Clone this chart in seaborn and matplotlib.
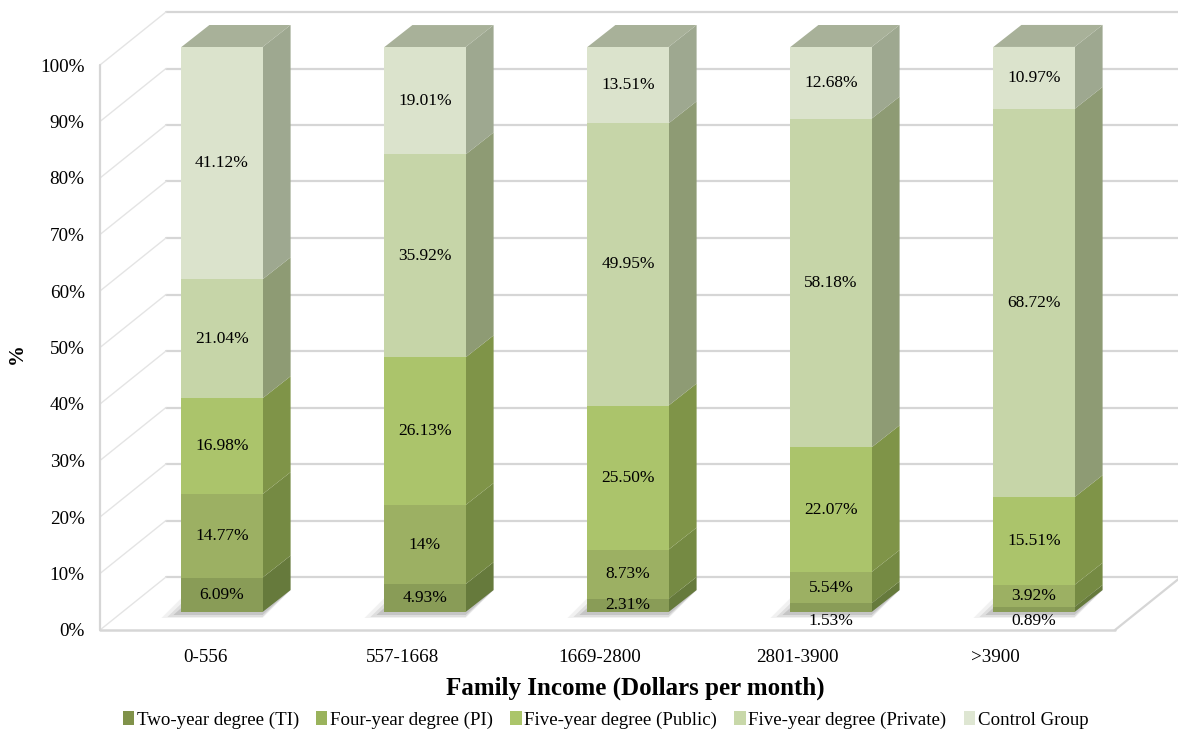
import numpy as np
import pandas as pd
import seaborn as sns
import matplotlib
matplotlib.use("Agg")
import matplotlib.pyplot as plt
from matplotlib.patches import Polygon, Patch

# ---------------- data ----------------
categories = ["0-556", "557-1668", "1669-2800", "2801-3900", ">3900"]
series = ["Two-year degree (TI)", "Four-year degree (PI)", "Five-year degree (Public)",
          "Five-year degree (Private)", "Control Group"]
two_year = [6.09, 4.93, 2.31, 1.53, 0.89]
four_year = [14.77, 14.00, 8.73, 5.54, 3.92]
five_public = [16.98, 26.13, 25.50, 22.07, 15.51]
five_private = [21.04, 35.92, 49.95, 58.18, 68.72]
control = [41.12, 19.01, 13.51, 12.68, 10.97]
y_ticks = [0, 10, 20, 30, 40, 50, 60, 70, 80, 90, 100]

values = [two_year, four_year, five_public, five_private, control]
front_colors = ["#899c57", "#9cb063", "#abc46b", "#c6d5a8", "#dbe3cc"]
side_colors = ["#667a3c", "#758a43", "#7f9448", "#8e9b74", "#9ea890"]
top_color = "#a8b199"
legend_colors = ["#80924a", "#9ab35c", "#abc56a", "#c8d8a9", "#dee6d2"]

sns.set_theme(style="white")
plt.rcParams["font.family"] = ["Liberation Serif", "DejaVu Serif"]
plt.rcParams["text.color"] = "black"

W, H = 1178, 742
fig = plt.figure(figsize=(W / 100, H / 100), dpi=100)
ax = fig.add_axes([100 / W, 112 / H, 1015 / W, 565 / H])

bar_w = 0.40
cum = np.cumsum(np.array(values), axis=0)
df = pd.DataFrame({"category": categories})
for k in range(len(series)):
    df[series[k]] = cum[k]

# draw cumulative bars from the top layer down (seaborn stacked idiom)
for k in reversed(range(len(series))):
    sns.barplot(data=df, x="category", y=series[k], color=front_colors[k],
                saturation=1, width=bar_w, linewidth=0, edgecolor="none",
                ax=ax, zorder=3)

ux = 203.0                      # px per category unit (bar plane)
xl = -122 / ux
xr = xl + 1015 / ux
ax.set_xlim(xl, xr)
ax.set_ylim(0, 100)
uy = 565 / 100.0                # px per y unit

oy = 18 / uy                    # front face raised above the front plane
dx, dy = 28 / ux, 22 / uy       # bar depth
DX, DY = 66 / ux, 53 / uy       # wall depth

for p in ax.patches:
    p.set_y(p.get_y() + oy)
    p.set_clip_on(False)

# walls and floor
wall_c = "#d6d6d6"
for t in y_ticks:
    ax.plot([xl + DX, xr + DX], [t + DY, t + DY], color=wall_c, lw=1.6, zorder=0.5, clip_on=False)
    ax.plot([xl, xl + DX], [t, t + DY], color="#e4e4e4", lw=1.0, zorder=0.5, clip_on=False)
ax.plot([xl, xl], [0, 100], color=wall_c, lw=1.6, zorder=0.6, clip_on=False)
ax.plot([xl, xr], [0, 0], color=wall_c, lw=1.8, zorder=0.6, clip_on=False)
ax.plot([xr, xr + DX], [0, DY], color=wall_c, lw=1.6, zorder=0.6, clip_on=False)

# 3D side and top faces + labels
for i in range(len(categories)):
    xL = i - bar_w / 2
    xR = i + bar_w / 2
    # soft shadow at the foot of the bar
    for s, d, a in [(20, 6, 0.08), (14, 5, 0.12), (8, 3, 0.18)]:
        shadow = Polygon([(xL - s / ux, oy - d / uy), (xR, oy - d / uy),
                          (xR + dx, oy + dy), (xL + dx - s / ux, oy + dy)], closed=True,
                         facecolor="#555555", alpha=a, edgecolor="none", zorder=1, clip_on=False)
        ax.add_patch(shadow)
    bottom = 0.0
    for k in range(len(series)):
        v = values[k][i]
        top = bottom + v
        side = Polygon([(xR, bottom + oy), (xR, top + oy), (xR + dx, top + oy + dy),
                        (xR + dx, bottom + oy + dy)], closed=True,
                       facecolor=side_colors[k], edgecolor="none", zorder=2.5, clip_on=False)
        ax.add_patch(side)
        lab = f"{int(round(v))}%" if abs(v - round(v)) < 1e-9 else f"{v:.2f}%"
        if v < 2:
            ax.text(i, bottom + oy - 1.0 / uy, lab, ha="center", va="top",
                    fontsize=12.5, color="black", zorder=5)
        else:
            ax.text(i, (bottom + top) / 2 + oy, lab, ha="center", va="center",
                    fontsize=12.5, color="black", zorder=5)
        bottom = top
    topf = Polygon([(xL, bottom + oy), (xR, bottom + oy), (xR + dx, bottom + oy + dy),
                    (xL + dx, bottom + oy + dy)], closed=True, facecolor=top_color,
                   edgecolor="none", zorder=2.5, clip_on=False)
    ax.add_patch(topf)

for s in ax.spines.values():
    s.set_visible(False)
ax.grid(False)
ax.set_yticks(y_ticks)
ax.set_yticklabels([f"{t}%" for t in y_ticks], fontsize=13.8, color="black")
# category labels sit on the front (floor) plane, slightly narrower spacing
label_scale, label_shift = 197.5 / ux, -17 / ux
ax.set_xticks([i * label_scale + label_shift for i in range(len(categories))])
ax.set_xticklabels(categories, fontsize=13.7, color="black")
ax.tick_params(axis="y", length=0, pad=11)
ax.tick_params(axis="x", length=0, pad=14)
ax.set_xlabel("Family Income (Dollars per month)", fontsize=18, fontweight="bold",
              color="black")
ax.xaxis.set_label_coords(0.527, -0.083)
ax.set_ylabel("%", fontsize=15, fontweight="bold", color="black", va="center")
ax.yaxis.set_label_coords(-0.082, 0.49)

handles = [Patch(facecolor=c, edgecolor="none") for c in legend_colors]
fig.legend(handles, series, loc="center", bbox_to_anchor=(0.514, 1 - 720 / H), ncol=5,
           frameon=False, fontsize=13.6, handlelength=0.6, handleheight=0.7,
           handletextpad=0.15, columnspacing=0.9)

fig.savefig("out.png", dpi=100)
